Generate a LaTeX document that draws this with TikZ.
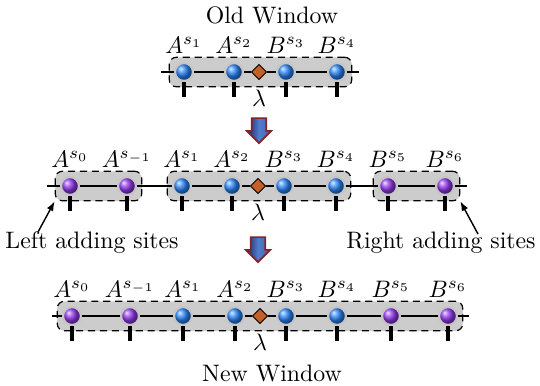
\documentclass[tikz,border=0pt]{standalone}
\usepackage{amsmath}
\usetikzlibrary{arrows.meta,positioning,shapes.geometric,shapes.arrows,fit,backgrounds}
\definecolor{siteblue}{RGB}{40,130,245}
\definecolor{sitepurple}{RGB}{145,55,235}
\definecolor{lamcol}{RGB}{195,95,40}
\definecolor{winfill}{RGB}{204,204,204}
\definecolor{arrdark}{RGB}{25,35,95}
\definecolor{arrlight}{RGB}{80,125,205}
\definecolor{arredge}{RGB}{130,35,40}
\tikzset{
	site/.style={circle,minimum size=7.5pt,inner sep=0pt,draw=gray!45,line width=0.9pt,ball color=siteblue},
	addsite/.style={site,ball color=sitepurple},
	lam/.style={diamond,draw,fill=lamcol,minimum size=6.5pt,inner sep=0pt,label={[label distance=0.5pt]below:$\lambda$}},
	win/.style={draw,densely dashed,rounded corners=3pt,fill=winfill,inner sep=2pt,line width=0.5pt},
	bond/.style={line width=0.9pt},
	leg/.style={line width=1.4pt},
	godown/.style={single arrow,shape border rotate=270,minimum height=10.5pt,inner sep=2.7pt,single arrow head extend=2.1pt,
		left color=arrdark,right color=arrlight!70!arrdark,middle color=arrlight,draw=arredge,line width=0.7pt},
	every new ->/.style={shorten >=1pt}
}

\begin{document}
\begin{tikzpicture}[x=0.42pt,y=-0.42pt]
			\useasboundingbox (0,0) rectangle (540,385);
			\node (old) at (272,15) {Old Window};
			
			% old window
			\node[site,label=above:$A^{s_1}$] (o1) at (184,72) {};
			\node[site,label=above:$A^{s_2}$] (o2) at (234,72) {};
			\node[lam] (olam) at (259,72) {};
			\node[site,label=above:$B^{s_3}$] (o3) at (286,72) {};
			\node[site,label=above:$B^{s_4}$] (o4) at (337,72) {};
			\begin{scope}[on background layer]
				\node[win,fit=(o1)(o4)] (owin) {};
			\end{scope}
			\coordinate (oL) at (161,72);
			\coordinate (oR) at (359,72);
			\draw[bond] (oL) -- (o1) -- (o2) -- (olam) -- (o3) -- (o4) -- (oR);
			\draw[leg] (o1.south) -- ++(0,15) (o2.south) -- ++(0,15) (o3.south) -- ++(0,15) (o4.south) -- ++(0,15);
			
			\node[godown] (go1) at (259,127) {};
			
			% window with adding sites
			\node[addsite,label=above:$A^{s_0}$] (m0) at (70,186) {};
			\node[addsite,label=above:$A^{s_{-1}}$] (mm) at (127,186) {};
			\node[site,label=above:$A^{s_1}$] (m1) at (182,186) {};
			\node[site,label=above:$A^{s_2}$] (m2) at (232,186) {};
			\node[lam] (mlam) at (258,186) {};
			\node[site,label=above:$B^{s_3}$] (m3) at (284,186) {};
			\node[site,label=above:$B^{s_4}$] (m4) at (336,186) {};
			\node[addsite,label=above:$B^{s_5}$] (m5) at (388,186) {};
			\node[addsite,label=above:$B^{s_6}$] (m6) at (445,186) {};
			\begin{scope}[on background layer]
				\node[win,fit=(m0)(mm)] (mleft) {};
				\node[win,fit=(m1)(m4)] (mmid) {};
				\node[win,fit=(m5)(m6)] (mright) {};
			\end{scope}
			\coordinate (mL) at (47,186);
			\coordinate (mR) at (467,186);
			\draw[bond] (mL) -- (m0) -- (mm) -- (m1) -- (m2) -- (mlam) -- (m3) -- (m4) -- (m5) -- (m6) -- (mR);
			\draw[leg] (m0.south) -- ++(0,15) (mm.south) -- ++(0,15) (m1.south) -- ++(0,15) (m2.south) -- ++(0,15)
				(m3.south) -- ++(0,15) (m4.south) -- ++(0,15) (m5.south) -- ++(0,15) (m6.south) -- ++(0,15);
			
			\node (lt) at (92,243) {Left adding sites};
			\node[anchor=east] (rt) at (544,243) {Right adding sites};
			\coordinate (lt0) at (38,232);
			\coordinate (rt0) at (478,234);
			\draw[-{Latex[length=4pt]},line width=0.6pt] (lt0) -- (mleft.south west);
			\draw[-{Latex[length=4pt]},line width=0.6pt] (rt0) -- (mright.south east);
			
			\node[godown] (go2) at (258,246) {};
			
			% new window
			\node[addsite,label=above:$A^{s_0}$] (n0) at (72,316) {};
			\node[addsite,label=above:$A^{s_{-1}}$] (nm) at (130,316) {};
			\node[site,label=above:$A^{s_1}$] (n1) at (183,316) {};
			\node[site,label=above:$A^{s_2}$] (n2) at (235,316) {};
			\node[lam] (nlam) at (260,316) {};
			\node[site,label=above:$B^{s_3}$] (n3) at (286,316) {};
			\node[site,label=above:$B^{s_4}$] (n4) at (337,316) {};
			\node[addsite,label=above:$B^{s_5}$] (n5) at (391,316) {};
			\node[addsite,label=above:$B^{s_6}$] (n6) at (448,316) {};
			\begin{scope}[on background layer]
				\node[win,fit=(n0)(n6)] (nwin) {};
			\end{scope}
			\coordinate (nL) at (52,316);
			\coordinate (nR) at (469,316);
			\draw[bond] (nL) -- (n0) -- (nm) -- (n1) -- (n2) -- (nlam) -- (n3) -- (n4) -- (n5) -- (n6) -- (nR);
			\draw[leg] (n0.south) -- ++(0,15) (nm.south) -- ++(0,15) (n1.south) -- ++(0,15) (n2.south) -- ++(0,15)
				(n3.south) -- ++(0,15) (n4.south) -- ++(0,15) (n5.south) -- ++(0,15) (n6.south) -- ++(0,15);
			
			\node (new) at (272,373) {New Window};
		\end{tikzpicture}
\end{document}
